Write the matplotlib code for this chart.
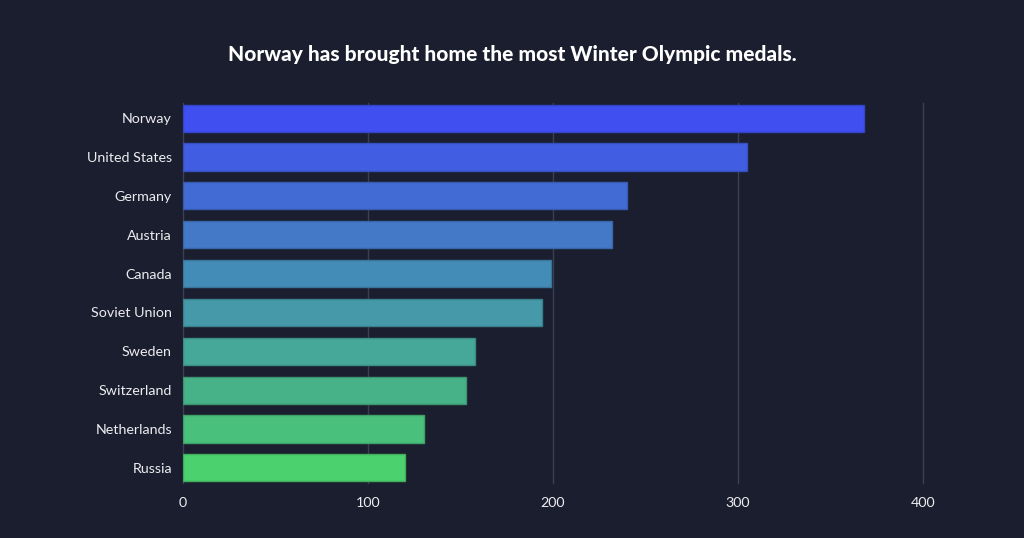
import matplotlib
matplotlib.use("Agg")
import matplotlib.pyplot as plt

countries = ["Norway", "United States", "Germany", "Austria", "Canada",
             "Soviet Union", "Sweden", "Switzerland", "Netherlands", "Russia"]
medals = [368, 305, 240, 232, 199, 194, 158, 153, 130, 120]
bar_colors = ["#3F4FF0", "#415EE2", "#426CD4", "#4479C8", "#448CB8",
              "#4599A8", "#46A898", "#47B288", "#49C07C", "#4BD16E"]
edge_colors = ["#3344C8", "#3550BE", "#365CB2", "#3866A8", "#38759A",
               "#39808C", "#3A8C7E", "#3B9570", "#3DA066", "#3EAE5C"]
xticks = [0, 100, 200, 300, 400]
title = "Norway has brought home the most Winter Olympic medals."

bg = "#1B1E2E"
plt.rcParams['font.family'] = ['Lato', 'DejaVu Sans']

fig = plt.figure(figsize=(10.24, 5.38), dpi=100, facecolor=bg)
ax = fig.add_axes([183/1024, 1-483/538, (923-183)/1024, (483-103)/538])
ax.set_facecolor(bg)

y = list(range(len(countries)))
ax.barh(y, medals, height=0.7, color=bar_colors, edgecolor=edge_colors,
        linewidth=1.0, zorder=3)

ax.set_xlim(0, 400)
ax.set_ylim(len(countries) - 1 + 0.39, -0.39)
ax.set_yticks(y)
ax.set_yticklabels(countries)
ax.set_xticks(xticks)
ax.set_xticklabels([str(t) for t in xticks])
ax.tick_params(axis='both', length=0, colors="#ECECF0", labelsize=10.3)
ax.tick_params(axis='y', pad=8)
ax.tick_params(axis='x', pad=10)
ax.grid(axis='x', color="#3A3F52", linewidth=1.0, zorder=0)
for gl in ax.get_xgridlines():
    gl.set_clip_on(False)
ax.grid(axis='y', visible=False)
for s in ax.spines.values():
    s.set_visible(False)

fig.text(512/1024, 1-55/538, title, ha='center', va='center',
         color='white', fontsize=15, fontweight='black')

fig.savefig("out.png", dpi=100, facecolor=bg)
